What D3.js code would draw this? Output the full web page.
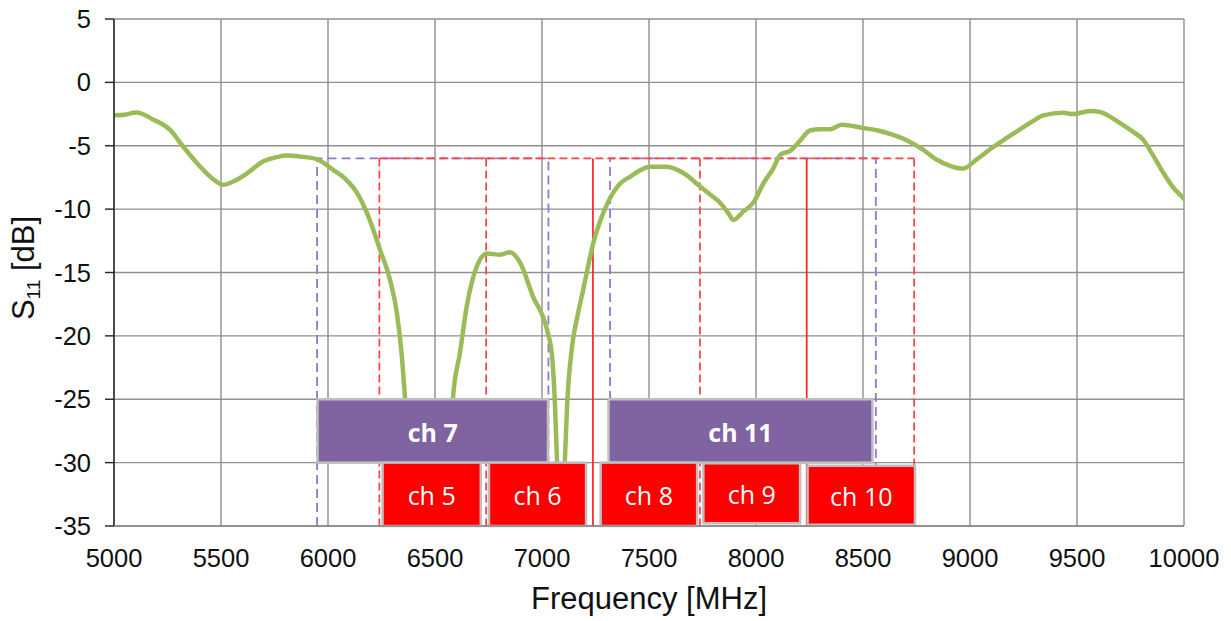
<!DOCTYPE html>
<html><head><meta charset="utf-8">
<script src="https://cdn.jsdelivr.net/npm/d3@7"></script>
<style>body{margin:0;background:#fff}svg{display:block}</style>
</head><body><svg id="c" width="1231" height="621"></svg>
<script>
// ---- data ----
const freq = [5000,5050,5105,5180,5262,5323,5400,5460,5510,5560,5620,5696,5760,5807,5869,5947,6024,6080,6135,6182,6243,6290,6322,6345,6360,6380,6420,6500,6560,6584,6617,6648,6696,6743,6804,6850,6897,6958,7023,7047,7061,7070,7080,7097,7107,7117,7140,7165,7192,7238,7310,7364,7411,7505,7583,7661,7738,7790,7832,7870,7894,7940,7987,8037,8080,8115,8159,8206,8252,8300,8346,8400,8500,8570,8641,8720,8780,8845,8910,8967,9030,9108,9170,9234,9290,9343,9436,9483,9561,9610,9654,9700,9762,9808,9850,9902,9950,9995,10000];
const s11 = [-2.6,-2.55,-2.38,-2.9,-3.75,-5.06,-6.6,-7.6,-8.08,-7.8,-7.2,-6.24,-5.9,-5.77,-5.85,-6.06,-6.9,-7.6,-8.7,-10.3,-13.2,-15.6,-18.2,-21.6,-24.9,-29,-36,-40,-33,-24.9,-21.3,-17.7,-14.5,-13.5,-13.6,-13.4,-14.2,-16.9,-19.5,-21.6,-25.6,-29.8,-33,-33,-29.8,-25.6,-20.9,-18.5,-16.4,-12.8,-9.4,-8.0,-7.45,-6.65,-6.65,-7.15,-8.2,-8.9,-9.5,-10.3,-10.85,-10.2,-9.5,-7.9,-6.8,-5.7,-5.4,-4.6,-3.8,-3.7,-3.7,-3.35,-3.6,-3.8,-4.15,-4.7,-5.3,-6.1,-6.6,-6.8,-6.1,-5.1,-4.4,-3.7,-3.1,-2.6,-2.4,-2.5,-2.25,-2.35,-2.7,-3.2,-3.9,-4.5,-5.6,-7.1,-8.3,-9.1,-9.2];

const xTicks = [5000,5500,6000,6500,7000,7500,8000,8500,9000,9500,10000];
const yTicks = [5,0,-5,-10,-15,-20,-25,-30,-35];

// channel masks (dashed outlines, top at -6 dB)
const maskLevel = -6;
const purpleMaskStart = [5949, 7318];
const purpleMaskEnd   = [7030, 8560];
const redMaskEdges = [6240, 6739, 7238, 7738, 8237, 8739];
const redSolidEdges = [7238, 8237];

// channel boxes
const boxLabels = ["ch 7","ch 11","ch 5","ch 6","ch 8","ch 9","ch 10"];
const boxStart  = [5951, 7311, 6255, 6752, 7274, 7754, 8241];
const boxEnd    = [7028, 8544, 6714, 7206, 7725, 8206, 8743];
const boxTop    = [-25, -25, -30, -30, -30, -30.05, -30.25];
const boxBottom = [-30, -30, -35, -35, -35, -34.78, -34.9];
const boxGroup  = ["p","p","r","r","r","r","r"];

// ---- chart ----
const svg = d3.select("#c");
const L = 114, R = 1184, T = 19, B = 526;
const x = d3.scaleLinear().domain([5000,10000]).range([L,R]);
const y = d3.scaleLinear().domain([-35,5]).range([B,T]);
const gridC = "#8f8f8f";

// grid
svg.append("g").selectAll("line").data(yTicks).join("line")
  .attr("x1",L).attr("x2",R).attr("y1",d=>y(d)).attr("y2",d=>y(d))
  .attr("stroke",gridC).attr("stroke-width",1.4);
svg.append("g").selectAll("line").data(xTicks).join("line")
  .attr("x1",d=>x(d)).attr("x2",d=>x(d)).attr("y1",T).attr("y2",B)
  .attr("stroke",gridC).attr("stroke-width",1.4);

// mask outlines
const pm = svg.append("g");
purpleMaskStart.forEach((s,i)=>{
  const e = purpleMaskEnd[i];
  pm.append("path")
    .attr("d",`M${x(s)},${y(-35)}V${y(maskLevel)}H${x(e)}V${y(-35)}`)
    .attr("fill","none").attr("stroke","#9a72d4").attr("stroke-width",1.8)
    .attr("stroke-dasharray","9,5");
});
const rm = svg.append("g");
rm.append("path")
  .attr("d",`M${x(redMaskEdges[0])},${y(maskLevel)}H${x(redMaskEdges[redMaskEdges.length-1])}`)
  .attr("fill","none").attr("stroke","#ff4040").attr("stroke-width",1.7)
  .attr("stroke-dasharray","8,4");
redMaskEdges.forEach(f=>{
  const solid = redSolidEdges.includes(f);
  rm.append("line").attr("x1",x(f)).attr("x2",x(f))
    .attr("y1",y(maskLevel)).attr("y2",y(-35))
    .attr("stroke", solid ? "#ff2020" : "#ff4040").attr("stroke-width",1.7)
    .attr("stroke-dasharray", solid ? null : "8,4");
});

// curve
svg.append("clipPath").attr("id","clp").append("rect")
  .attr("x",L).attr("y",T-3).attr("width",R-L).attr("height",B-T+3);
const pts = freq.map((f,i)=>[f,s11[i]]);
svg.append("path").datum(pts)
  .attr("clip-path","url(#clp)")
  .attr("d", d3.line().x(d=>x(d[0])).y(d=>y(d[1])).curve(d3.curveMonotoneX))
  .attr("fill","none").attr("stroke","#9bbb59").attr("stroke-width",4.5)
  .attr("stroke-linejoin","round").attr("stroke-linecap","round");

// boxes
const bg = svg.append("g");
boxLabels.forEach((lab,i)=>{
  const x0 = x(boxStart[i]), x1 = x(boxEnd[i]);
  const y0 = y(boxTop[i]), y1 = y(boxBottom[i]);
  bg.append("rect").attr("x",x0).attr("y",y0).attr("width",x1-x0).attr("height",y1-y0)
    .attr("fill", boxGroup[i]==="p" ? "#8064a2" : "#ff0000")
    .attr("stroke","#bfbfbf").attr("stroke-width",2.5);
  bg.append("text").attr("x",(x0+x1)/2).attr("y",(y0+y1)/2+1)
    .attr("text-anchor","middle").attr("dominant-baseline","central")
    .attr("fill","#fff")
    .attr("font-family","'Open Sans', sans-serif")
    .attr("font-weight", boxGroup[i]==="p" ? 700 : 400)
    .attr("font-size", 25)
    .text(lab);
});

// axes lines
svg.append("line").attr("x1",L).attr("x2",L).attr("y1",T).attr("y2",B)
  .attr("stroke","#222").attr("stroke-width",1.4);
svg.append("line").attr("x1",L).attr("x2",R).attr("y1",B).attr("y2",B)
  .attr("stroke","#888").attr("stroke-width",1.6);
svg.append("g").selectAll("line").data(yTicks).join("line")
  .attr("x1",L-9).attr("x2",L).attr("y1",d=>y(d)).attr("y2",d=>y(d))
  .attr("stroke","#222").attr("stroke-width",1.4);

// tick labels
const font = "'Liberation Sans', Arial, sans-serif";
svg.append("g").selectAll("text").data(yTicks).join("text")
  .attr("x",91).attr("y",d=>y(d)+9).attr("text-anchor","end")
  .attr("font-family",font).attr("font-size",25.5).attr("fill","#111")
  .text(d=>String(d));
svg.append("g").selectAll("text").data(xTicks).join("text")
  .attr("x",d=>x(d)).attr("y",567).attr("text-anchor","middle")
  .attr("font-family",font).attr("font-size",25.5).attr("fill","#111")
  .text(d=>d);

// axis titles
svg.append("text").attr("x",(L+R)/2).attr("y",609).attr("text-anchor","middle")
  .attr("font-family",font).attr("font-size",31).attr("fill","#111")
  .text("Frequency [MHz]");
const yt = svg.append("text").attr("transform","translate(34,268) rotate(-90)")
  .attr("text-anchor","middle").attr("font-family",font).attr("font-size",31).attr("fill","#111");
yt.append("tspan").text("S");
yt.append("tspan").attr("font-size",19).attr("dy",6).text("11");
yt.append("tspan").attr("dy",-6).text(" [dB]");
</script></body></html>
